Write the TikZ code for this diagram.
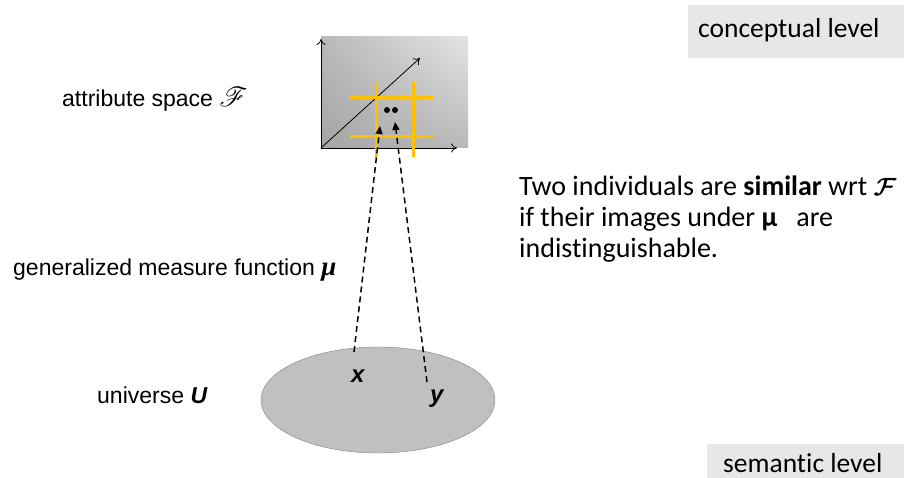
\documentclass[tikz,border=0pt]{standalone}
\usepackage{amsmath,bm}
\usepackage{mathrsfs}
\usepackage{fontspec}
\newfontfamily\arialf{Liberation Sans}
\newfontfamily\timesf{Liberation Serif}
\newfontfamily\calf[Ligatures=NoCommon]{Carlito}
\usetikzlibrary{arrows.meta,shadings,shapes.geometric}
\definecolor{gold}{RGB}{255,192,0}
\definecolor{levelgrey}{RGB}{231,231,231}
\definecolor{ellgrey}{RGB}{192,192,192}
\definecolor{ellline}{RGB}{128,128,128}
\definecolor{shdark}{RGB}{165,165,165}
\definecolor{shmid}{RGB}{185,185,185}
\definecolor{shlight}{RGB}{228,228,228}
\tikzset{
  lefttext/.style={font=\arialf\fontsize{23}{27}\selectfont, anchor=base west, inner sep=0pt},
  righttext/.style={font=\calf\fontsize{28}{34}\selectfont, anchor=base west, inner sep=0pt},
  leveltext/.style={font=\calf\fontsize{27.5}{32}\selectfont, anchor=base west, inner sep=0pt},
  axis/.style={line width=0.8pt, -{To[length=6pt,width=9pt]}},
  gridline/.style={gold, line width=3pt},
  mapping/.style={dashed, dash pattern=on 6pt off 4pt, line width=1.5pt, -{Triangle[length=8pt,width=7pt]}},
  ptlabel/.style={font=\arialf\bfseries\itshape\fontsize{24}{28}\selectfont, anchor=base west, inner sep=0pt}
}
\begin{document}
\begin{tikzpicture}[x=1pt,y=-1pt]
\useasboundingbox (0,0) rectangle (904,478);
% level boxes
\fill[levelgrey] (688,5) rectangle (904,58);
\node[leveltext] (concept) at (698,38) {conceptual level};
\fill[levelgrey] (707,444) rectangle (904,478);
\node[leveltext] (semantic) at (723,472) {semantic level};
% attribute space
\shade[lower left=shdark, upper left=shmid, lower right=shmid, upper right=shlight]
  (321,37) rectangle (468,148);
\coordinate (origin) at (321,148);
\coordinate (yend) at (321,39);
\coordinate (xend) at (457,148);
\coordinate (dend) at (420,58);
\draw[axis] (origin) -- (yend);
\draw[axis] (origin) -- (xend);
\draw[axis] (origin) -- (dend);
% grid
\coordinate (h1a) at (350,98); \coordinate (h1b) at (433,98);
\coordinate (h2a) at (350,137); \coordinate (h2b) at (433,137);
\coordinate (v1a) at (376,82); \coordinate (v1b) at (376,157);
\coordinate (v2a) at (413,82); \coordinate (v2b) at (413,157);
\draw[gridline] (h1a) -- (h1b);
\draw[gridline] (h2a) -- (h2b);
\draw[gridline] (v1a) -- (v1b);
\draw[gridline] (v2a) -- (v2b);
% dots
\fill (387,110) circle (3pt);
\fill (395,110) circle (3pt);
% universe
\node[draw=ellline, fill=ellgrey, ellipse, minimum width=234pt, minimum height=106pt, inner sep=0pt] (universe) at (378,400) {};
% mapping lines
\coordinate (px) at (354,352);
\coordinate (py) at (427,382);
\coordinate (fx) at (380,126);
\coordinate (fy) at (395,122);
\draw[mapping] (px) -- (fx);
\draw[mapping] (py) -- (fy);
\node[ptlabel] (xl) at (351,382) {x};
\node[ptlabel] (yl) at (430,402) {y};
% left labels
\node[lefttext] (attr) at (62,107) {attribute space \scalebox{1.1}{$\mathscr{F}$}};
\node[lefttext] (gen) at (13,275) {generalized measure function {\timesf\bfseries\itshape\fontsize{27}{30}\selectfont μ}};
\node[lefttext] (univ) at (97,403) {universe {\bfseries\itshape U}};
% right text
\node[righttext] (r1) at (519,196) {Two individuals are \textbf{similar} wrt $\bm{\mathcal{F}}$};
\node[righttext] (r2) at (519,227) {if their images under \textbf{μ}\ \ \ are};
\node[righttext] (r3) at (519,258) {indistinguishable.};
\end{tikzpicture}
\end{document}
